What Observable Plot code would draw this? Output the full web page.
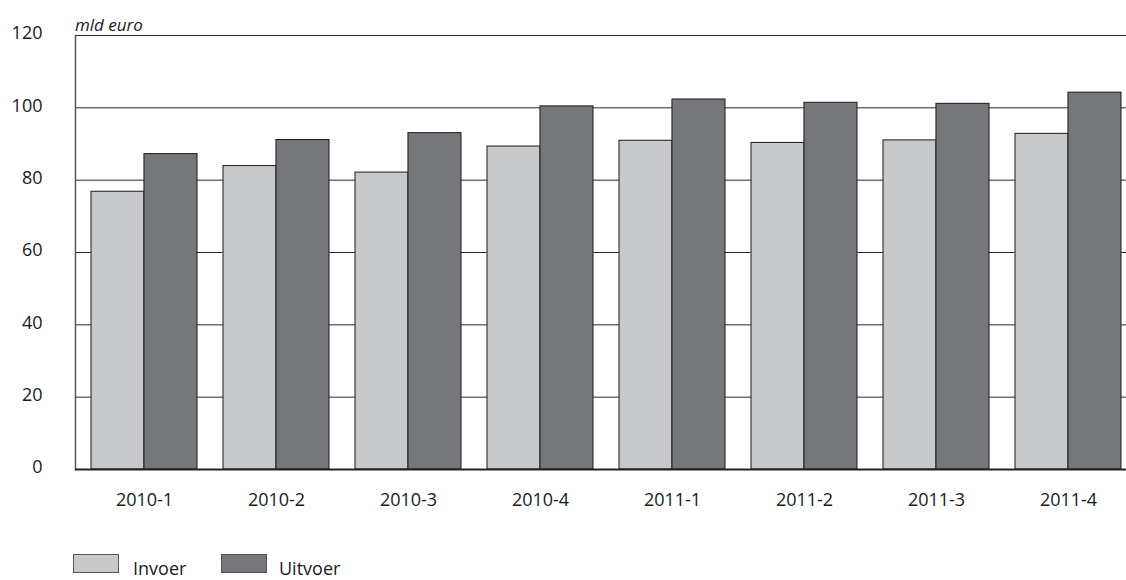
<!DOCTYPE html>
<html>
<head>
<meta charset="utf-8">
<script src="https://cdn.jsdelivr.net/npm/d3@7"></script>
<script src="https://cdn.jsdelivr.net/npm/@observablehq/plot@0.6"></script>
<style>
  body { margin: 0; background: #fff; font-family: "Open Sans", sans-serif; color: #1a1a1a; }
  #wrap { position: relative; width: 1126px; height: 580px; overflow: hidden; background: #fff; }
  #chart { position: absolute; left: 0; top: 0; }
  #unit { position: absolute; left: 75px; top: 16px; font-size: 17px; line-height: 17px; font-style: italic; }
  .sw { position: absolute; top: 554px; width: 44px; height: 17px; border: 1px solid #555; }
  .lt { position: absolute; top: 559px; font-size: 18px; line-height: 18px; }
</style>
</head>
<body>
<div id="wrap">
  <div id="chart"></div>
  <div id="unit"></div>
  <div id="legend"></div>
</div>
<script>
const periods = ["2010-1", "2010-2", "2010-3", "2010-4", "2011-1", "2011-2", "2011-3", "2011-4"];
const invoer  = [76.8, 83.9, 82.1, 89.3, 90.9, 90.3, 91.0, 92.8];
const uitvoer = [87.2, 91.1, 93.0, 100.4, 102.3, 101.4, 101.1, 104.2];
const seriesNames = ["Invoer", "Uitvoer"];
const seriesColors = ["#c8c9cb", "#76777b"];
const yTicks = [0, 20, 40, 60, 80, 100, 120];
const unitLabel = "mld euro";

const invoerData = periods.map((p, i) => ({period: p, value: invoer[i]}));
const uitvoerData = periods.map((p, i) => ({period: p, value: uitvoer[i]}));

const xOptions = {type: "band", domain: periods, range: [76, 1135], paddingInner: 0.2, paddingOuter: 0.1};
const half = Plot.scale({x: xOptions}).bandwidth / 2;

const chart = Plot.plot({
  width: 1126,
  height: 540,
  marginLeft: 75,
  marginRight: 0,
  marginTop: 35,
  marginBottom: 71,
  style: {fontFamily: "Open Sans, sans-serif", fontSize: "18px", color: "#1a1a1a", background: "#fff"},
  x: {...xOptions, label: null},
  y: {domain: [0, 120], label: null},
  marks: [
    Plot.ruleY(yTicks.slice(1), {stroke: "#2a2a2a", strokeWidth: 1}),
    Plot.frame({anchor: "left", stroke: "#555", strokeWidth: 1.5}),
    Plot.barY(invoerData, {x: "period", y: "value", fill: seriesColors[0], stroke: "#1a1a1a", strokeWidth: 1, insetLeft: 0, insetRight: half}),
    Plot.barY(uitvoerData, {x: "period", y: "value", fill: seriesColors[1], stroke: "#1a1a1a", strokeWidth: 1, insetLeft: half, insetRight: 0}),
    Plot.ruleY([0], {stroke: "#222", strokeWidth: 2}),
    Plot.axisY(yTicks, {tickSize: 0, tickPadding: 33, dy: -2, label: null, fontSize: 18, fill: "#1a1a1a"}),
    Plot.axisX({tickSize: 0, tickPadding: 24, label: null, fontSize: 18, fill: "#1a1a1a"})
  ]
});
document.getElementById("chart").appendChild(chart);
document.getElementById("unit").textContent = unitLabel;

const legend = document.getElementById("legend");
const swLeft = [73, 221];
const txtLeft = [133, 279];
seriesNames.forEach((name, i) => {
  const sw = document.createElement("div");
  sw.className = "sw";
  sw.style.left = swLeft[i] + "px";
  sw.style.background = seriesColors[i];
  legend.appendChild(sw);
  const t = document.createElement("div");
  t.className = "lt";
  t.style.left = txtLeft[i] + "px";
  t.textContent = name;
  legend.appendChild(t);
});
</script>
</body>
</html>
